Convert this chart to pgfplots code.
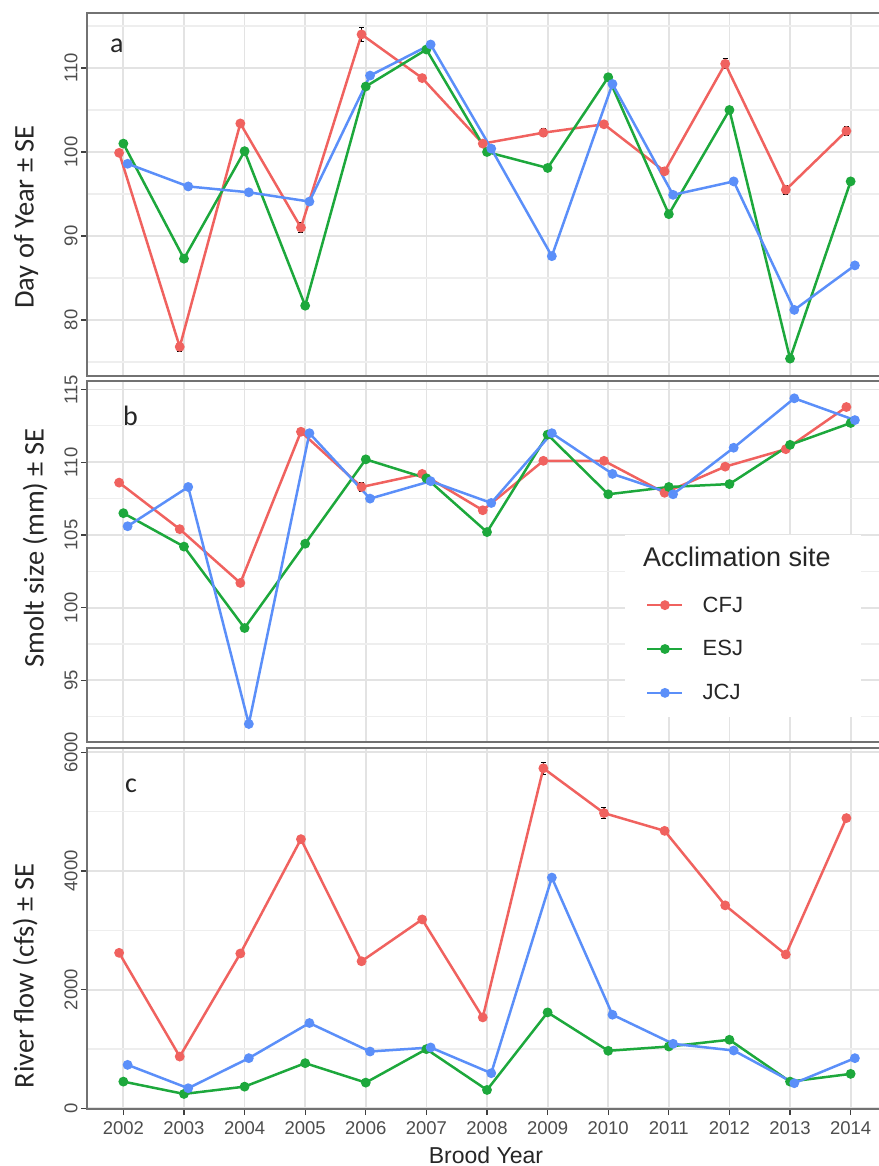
\documentclass[border=0pt]{standalone}
\usepackage{pgfplots}
\pgfplotsset{compat=1.18}
\usepackage{pgfplotstable}
\usepackage{fontspec}
\setmainfont{Liberation Sans}
\newfontfamily\titlefont{Carlito}

\definecolor{cfj}{HTML}{F0625F}
\definecolor{esj}{HTML}{1DA83C}
\definecolor{jcj}{HTML}{5B8FF9}
\definecolor{tickgray}{HTML}{4D4D4D}
\definecolor{framegray}{HTML}{727272}
\definecolor{gridmajor}{HTML}{E3E3E3}
\definecolor{gridminor}{HTML}{EEEEEE}

% (a) arrival timing, day of year
\pgfplotstableread{
year cfj  cfjse esj   jcj
2002 99.9  0.2 101.0  98.6
2003 76.8  0.5  87.3  95.9
2004 103.4 0.4 100.1  95.2
2005 91.0  0.6  81.7  94.1
2006 114.0 0.8 107.8 109.1
2007 108.8 0.4 112.2 112.8
2008 101.0 0.3 100.0 100.4
2009 102.3 0.5  98.1  87.6
2010 103.3 0.3 108.9 108.1
2011 97.7  0.4  92.6  94.9
2012 110.5 0.6 105.0  96.5
2013 95.5  0.5  75.4  81.2
2014 102.5 0.5  96.5  86.5
}\doydata

% (b) smolt size, mm
\pgfplotstableread{
year cfj   cfjse esj   jcj
2002 108.6 0.1 106.5 105.6
2003 105.4 0.1 104.2 108.3
2004 101.7 0.2  98.6  92.0
2005 112.1 0.1 104.4 112.0
2006 108.3 0.3 110.2 107.5
2007 109.2 0.1 108.9 108.7
2008 106.7 0.1 105.2 107.2
2009 110.1 0.1 111.9 112.0
2010 110.1 0.1 107.8 109.2
2011 107.9 0.1 108.3 107.8
2012 109.7 0.1 108.5 111.0
2013 110.9 0.1 111.2 114.4
2014 113.8 0.1 112.7 112.9
}\sizedata

% (c) river flow, cfs
\pgfplotstableread{
year cfj  cfjse esj  jcj
2002 2620  30  450  732
2003 872   20  242  338
2004 2609  30  365  845
2005 4536  30  761 1437
2006 2478  30  433  957
2007 3183  30  997 1025
2008 1532  20  309  592
2009 5731 100 1616 3888
2010 4975  90  969 1577
2011 4676  30 1041 1087
2012 3420  30 1155  974
2013 2592  30  450  423
2014 4891  30  580  845
}\flowdata

\pgfplotsset{
  panel/.style={
    scale only axis, width=800pt,
    xmin=2001.4, xmax=2014.6,
    xtick={2002,2003,...,2014},
    axis line style={draw=framegray, line width=1.9pt},
    xmajorgrids, ymajorgrids, yminorgrids,
    major grid style={draw=gridmajor, line width=1.8pt},
    minor grid style={draw=gridminor, line width=1.1pt},
    tick align=outside, tick pos=left,
    major tick length=6pt, minor tick length=0pt,
    tick style={draw=black!75, line width=1.2pt},
    scaled y ticks=false,
    /pgf/number format/assume math mode=true,
    /pgf/number format/1000 sep={},
    ticklabel style={font=\fontsize{18.5}{20}\selectfont, text=tickgray},
    yticklabel style={rotate=90, anchor=south},
  },
  nox/.style={xticklabels={}, xtick style={draw=none}},
  site/.style={line width=2.5pt, mark=*, mark size=3.6pt, mark options={solid}},
  se/.style={forget plot, draw=none, mark=none,
    error bars/.cd, y dir=both, y explicit,
    error bar style={draw=black, line width=1.1pt},
    error mark options={rotate=90, mark size=2.5pt, draw=black, line width=1.1pt}},
}

\begin{document}
\begin{tikzpicture}
\useasboundingbox (0,0) rectangle (878pt,-1166pt);

% ---- panel a ----
\begin{axis}[panel, nox, height=363pt,
  at={(87pt,-13pt)}, anchor=north west,
  ymin=73.33, ymax=116.55,
  ytick={80,90,100,110}, minor ytick={75,85,95,105,115}]
\addplot[se] table[x expr=\thisrow{year}-0.07, y=cfj, y error=cfjse]{\doydata};
\addplot[site, color=cfj] table[x expr=\thisrow{year}-0.07, y=cfj]{\doydata};
\addplot[site, color=esj] table[x=year, y=esj]{\doydata};
\addplot[site, color=jcj] table[x expr=\thisrow{year}+0.07, y=jcj]{\doydata};
\end{axis}

% ---- panel b ----
\begin{axis}[panel, nox, height=361pt,
  at={(87pt,-381pt)}, anchor=north west,
  ymin=90.76, ymax=115.59,
  ytick={95,100,105,110,115}, minor ytick={92.5,97.5,102.5,107.5,112.5},
  legend style={at={(0.69875,0.2576)}, anchor=west, draw=none, fill=none,
    inner sep=0pt, row sep=27pt, column sep=19pt,
    font=\fontsize{22}{24}\selectfont,
    nodes={inner sep=0pt, text=black!85}},
  legend cell align=left,
  legend image code/.code={\draw[mark repeat=2, mark phase=2, #1]
    plot coordinates {(0pt,0pt) (17.5pt,0pt) (35pt,0pt)};}]
\addplot[se] table[x expr=\thisrow{year}-0.07, y=cfj, y error=cfjse]{\sizedata};
\addplot[site, color=cfj] table[x expr=\thisrow{year}-0.07, y=cfj]{\sizedata};
\addlegendentry{CFJ}
\addplot[site, color=esj] table[x=year, y=esj]{\sizedata};
\addlegendentry{ESJ}
\addplot[site, color=jcj] table[x expr=\thisrow{year}+0.07, y=jcj]{\sizedata};
\addlegendentry{JCJ}
\fill[white] (rel axis cs:0.6725,0.0693) rectangle (rel axis cs:0.9675,0.5734);
\end{axis}

% ---- panel c ----
\begin{axis}[panel, height=361pt,
  at={(87pt,-748pt)}, anchor=north west,
  ymin=-12, ymax=6072,
  ytick={0,2000,4000,6000}, minor ytick={1000,3000,5000},
  xticklabel style={yshift=-3pt}]
\addplot[se] table[x expr=\thisrow{year}-0.07, y=cfj, y error=cfjse]{\flowdata};
\addplot[site, color=cfj] table[x expr=\thisrow{year}-0.07, y=cfj]{\flowdata};
\addplot[site, color=esj] table[x=year, y=esj]{\flowdata};
\addplot[site, color=jcj] table[x expr=\thisrow{year}+0.07, y=jcj]{\flowdata};
\end{axis}

% axis titles and panel tags
\begin{scope}[every node/.style={text=black!85}]
\node[rotate=90, anchor=base, font=\titlefont\fontsize{28.5}{30}\selectfont] at (33.5pt,-217pt) {Day of Year ± SE};
\node[rotate=90, anchor=base, font=\titlefont\fontsize{28.5}{30}\selectfont] at (43.5pt,-548pt) {Smolt size (mm) ± SE};
\node[rotate=90, anchor=base, font=\titlefont\fontsize{28.5}{30}\selectfont] at (33.5pt,-976pt) {River flow (cfs) ± SE};
\node[anchor=base west, inner sep=0pt, font=\titlefont\fontsize{28}{30}\selectfont] at (110pt,-53pt) {a};
\node[anchor=base west, inner sep=0pt, font=\titlefont\fontsize{28}{30}\selectfont] at (123pt,-425pt) {b};
\node[anchor=base west, inner sep=0pt, font=\titlefont\fontsize{28}{30}\selectfont] at (125pt,-792pt) {c};
\node[anchor=base, font=\fontsize{23}{25}\selectfont] at (486pt,-1163pt) {Brood Year};
\node[anchor=base west, inner sep=0pt, font=\fontsize{27}{30}\selectfont] at (643pt,-566pt) {Acclimation site};
\end{scope}
\end{tikzpicture}
\end{document}
